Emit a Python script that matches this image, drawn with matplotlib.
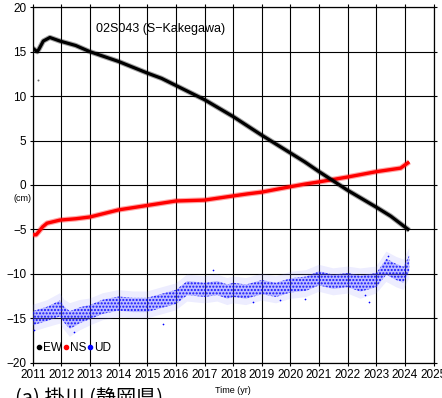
import numpy as np
import matplotlib
matplotlib.use("Agg")
import matplotlib.pyplot as plt
from matplotlib.lines import Line2D

plt.rcParams['font.family'] = ['Liberation Sans', 'Noto Sans CJK JP', 'DejaVu Sans']
plt.rcParams['hatch.linewidth'] = 1.0

# GNSS station 02S043 displacement time series (cm)
ew_t = [2011.0, 2011.16, 2011.22, 2011.37, 2011.6, 2011.95, 2012.5, 2013.0, 2014.0,
        2015.0, 2015.5, 2016.0, 2017.0, 2018.0, 2019.0, 2019.7, 2020.5, 2021.0,
        2022.0, 2023.0, 2023.5, 2024.15]
ew_v = [15.4, 15.0, 15.3, 16.2, 16.6, 16.2, 15.7, 15.0, 13.9,
        12.6, 12.0, 11.2, 9.6, 7.7, 5.6, 4.2, 2.6, 1.5,
        -0.6, -2.5, -3.5, -5.1]

ns_t = [2011.0, 2011.12, 2011.2, 2011.35, 2011.5, 2011.95, 2012.5, 2013.0, 2014.0,
        2015.0, 2016.0, 2017.0, 2017.85, 2018.5, 2019.0, 2019.65, 2020.5, 2021.0,
        2022.0, 2023.0, 2023.85, 2024.15]
ns_v = [-5.6, -5.6, -5.3, -4.7, -4.3, -3.95, -3.8, -3.6, -2.8,
        -2.3, -1.8, -1.7, -1.3, -1.0, -0.8, -0.4, 0.1, 0.35,
        0.9, 1.5, 1.9, 2.6]

ud_t = [2011.0, 2011.5, 2011.95, 2012.1, 2012.3, 2012.65, 2013.0, 2013.45, 2014.0,
        2014.5, 2015.0, 2015.55, 2016.0, 2016.4, 2017.0, 2017.45, 2017.8, 2018.0,
        2018.45, 2019.0, 2019.5, 2020.0, 2020.55, 2021.0, 2021.5, 2022.0, 2022.45,
        2023.0, 2023.35, 2023.7, 2023.95, 2024.15]
ud_v = [-15.0, -14.5, -13.9, -14.6, -15.2, -14.65, -14.3, -13.7, -13.35,
        -13.5, -13.5, -13.0, -12.6, -11.6, -11.8, -11.6, -12.0, -11.8,
        -12.0, -11.5, -11.8, -11.3, -11.1, -10.5, -10.9, -10.7, -11.1,
        -10.7, -9.2, -9.8, -10.1, -8.8]
ud_spread = [0.8, 0.8, 0.9, 0.9, 1.0, 0.9, 0.8, 0.8, 0.8,
             0.8, 0.8, 0.8, 0.8, 0.8, 0.8, 0.8, 0.8, 0.8,
             0.8, 0.8, 0.8, 0.8, 0.8, 0.8, 0.8, 0.8, 0.9,
             0.8, 0.9, 0.9, 0.9, 0.9]

# isolated outlying epochs
ew_out_t = [2011.2]
ew_out_v = [11.8]
ud_out_t = [2011.05, 2012.45, 2015.55, 2017.3, 2018.7, 2019.65, 2020.5, 2022.6, 2022.75, 2023.4]
ud_out_v = [-16.3, -16.6, -15.6, -9.6, -13.2, -13.0, -12.8, -12.4, -13.2, -8.0]

x_ticks = list(range(2011, 2026))
y_ticks = [-20, -15, -10, -5, 0, 5, 10, 15, 20]

fig = plt.figure(figsize=(4.42, 3.98), dpi=100)
ax = fig.add_axes([0.074, 0.0887, 0.907, 0.893])

t = np.array(ud_t)
v = np.array(ud_v)
s = np.array(ud_spread)
ax.fill_between(t, v - 1.9 * s, v + 1.9 * s, facecolor=(0.5, 0.5, 1.0, 0.14),
                edgecolor='none', linewidth=0, zorder=3)
ax.fill_between(t, v - s, v + s, facecolor=(0.35, 0.35, 1.0, 0.33),
                edgecolor='none', linewidth=0, zorder=3)
ax.fill_between(t, v - s, v + s, facecolor='none', edgecolor=(0, 0, 1, 0.9),
                hatch='.....', linewidth=0, zorder=3)
ax.scatter(ud_out_t, ud_out_v, s=1.5, color='blue', linewidths=0, zorder=3)

ax.plot(ns_t, ns_v, color='red', lw=4.0, alpha=0.35, solid_capstyle='butt', zorder=4)
ax.plot(ns_t, ns_v, color='red', lw=2.4, solid_capstyle='butt', zorder=4)
ax.plot(ew_t, ew_v, color='black', lw=3.8, alpha=0.35, solid_capstyle='butt', zorder=5)
ax.plot(ew_t, ew_v, color='black', lw=2.3, solid_capstyle='butt', zorder=5)
ax.scatter(ew_out_t, ew_out_v, s=2, color='0.4', linewidths=0, zorder=5)

ax.set_xlim(2011, 2025)
ax.set_ylim(-20, 20)
ax.set_xticks(x_ticks)
ax.set_yticks(y_ticks)
ax.grid(True, color='black', linewidth=0.8)
ax.set_axisbelow(True)
ax.tick_params(direction='out', length=2.5, width=0.8, labelsize=8.5,
               top=True, right=True, pad=2)
for sp in ax.spines.values():
    sp.set_linewidth(0.9)

ax.text(0.158, 0.955, '02S043 (S\u2212Kakegawa)', transform=ax.transAxes,
        fontsize=9, va='top', ha='left')
ax.text(-0.004, 0.462, '(cm)', transform=ax.transAxes, fontsize=6.5,
        ha='right', va='center')
ax.text(0.5, -0.077, 'Time (yr)', transform=ax.transAxes, fontsize=6.5,
        ha='center', va='center')

handles = [Line2D([], [], ls='none', marker='o', ms=3, color=c) for c in ['black', 'red', 'blue']]
ax.legend(handles, ['EW', 'NS', 'UD'], ncol=3, loc='lower left', frameon=False,
          handlelength=0.4, handletextpad=0.15, columnspacing=0.1, fontsize=8.5,
          bbox_to_anchor=(-0.008, 0.005), borderaxespad=0.2)

fig.text(0.035, 0.024, '(a) 掛川 (静岡県)', fontsize=14.5, ha='left', va='top',
         family=['Noto Sans CJK JP', 'DejaVu Sans'])

fig.savefig('out.png', dpi=100)
